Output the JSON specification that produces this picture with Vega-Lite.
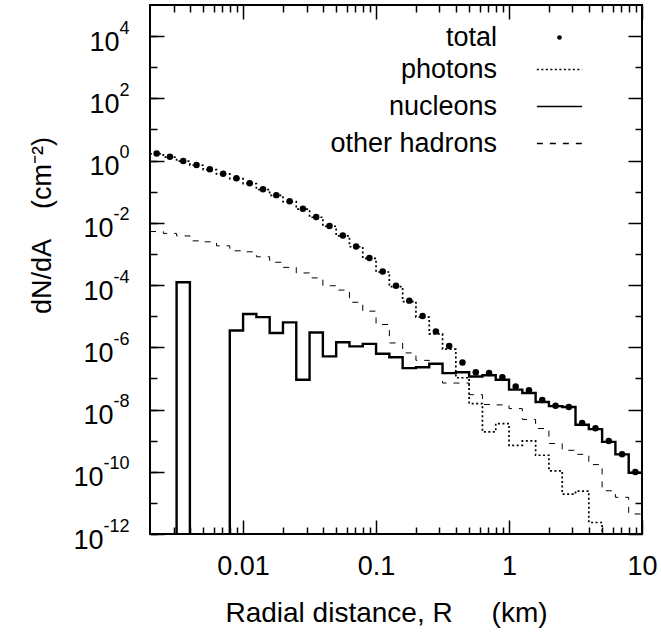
{
  "$schema": "https://vega.github.io/schema/vega-lite/v6.json",
  "width": 492,
  "height": 529,
  "autosize": {"type": "none"},
  "padding": {"left": 150, "top": 5, "right": 19, "bottom": 108},
  "background": "white",
  "config": {
    "view": {"stroke": "black", "strokeWidth": 2},
    "axis": {"domain": false, "grid": false, "ticks": true, "tickColor": "black", "tickWidth": 1.5, "tickOpacity": 1, "zindex": 1, "labelFont": "Liberation Sans", "labelColor": "black", "labelOverlap": false, "labelFlush": false, "labelBound": false, "titleFont": "Liberation Sans", "titleColor": "black", "titleFontWeight": "normal"},
    "legend": {"labelFont": "Liberation Sans", "labelColor": "black", "labelFontSize": 27, "padding": 0, "labelLimit": 300}
  },
  "data": {"values": [
    {"series":"photons","r":0.0019953,"v":1.66},{"series":"photons","r":0.0025119,"v":1.29},{"series":"photons","r":0.0031623,"v":0.955},{"series":"photons","r":0.0039811,"v":0.708},{"series":"photons","r":0.0050119,"v":0.513},{"series":"photons","r":0.0063096,"v":0.372},{"series":"photons","r":0.0079433,"v":0.263},{"series":"photons","r":0.01,"v":0.182},{"series":"photons","r":0.012589,"v":0.117},{"series":"photons","r":0.015849,"v":0.0759},{"series":"photons","r":0.019953,"v":0.0479},{"series":"photons","r":0.025119,"v":0.0275},{"series":"photons","r":0.031623,"v":0.0151},{"series":"photons","r":0.039811,"v":0.00776},{"series":"photons","r":0.050119,"v":0.0038},{"series":"photons","r":0.063096,"v":0.0017},{"series":"photons","r":0.079433,"v":7.24e-4},{"series":"photons","r":0.1,"v":2.63e-4},{"series":"photons","r":0.12589,"v":8.91e-5},{"series":"photons","r":0.15849,"v":2.95e-5},{"series":"photons","r":0.19953,"v":9.33e-6},{"series":"photons","r":0.25119,"v":2.69e-6},{"series":"photons","r":0.31623,"v":8.71e-7},{"series":"photons","r":0.39811,"v":1.05e-7},{"series":"photons","r":0.50119,"v":1.55e-8},{"series":"photons","r":0.63096,"v":1.91e-9},{"series":"photons","r":0.79433,"v":3.55e-9},{"series":"photons","r":1,"v":7.08e-10},{"series":"photons","r":1.2589,"v":9.77e-10},{"series":"photons","r":1.5849,"v":3.39e-10},{"series":"photons","r":1.9953,"v":1.07e-10},{"series":"photons","r":2.5119,"v":1.91e-11},{"series":"photons","r":3.1623,"v":2.4e-11},{"series":"photons","r":3.9811,"v":2.34e-12},{"series":"photons","r":5.0119,"v":1e-15},{"series":"photons","r":6.3096,"v":1e-15},{"series":"photons","r":7.9433,"v":1e-15},{"series":"photons","r":10,"v":1e-15},
    {"series":"nucleons","r":0.0019953,"v":1e-15},{"series":"nucleons","r":0.0025119,"v":1e-15},{"series":"nucleons","r":0.0031623,"v":1.23e-4},{"series":"nucleons","r":0.0039811,"v":1e-15},{"series":"nucleons","r":0.0050119,"v":1e-15},{"series":"nucleons","r":0.0063096,"v":1e-15},{"series":"nucleons","r":0.0079433,"v":3.47e-6},{"series":"nucleons","r":0.01,"v":1.17e-5},{"series":"nucleons","r":0.012589,"v":9.3e-6},{"series":"nucleons","r":0.015849,"v":2.88e-6},{"series":"nucleons","r":0.019953,"v":6.3e-6},{"series":"nucleons","r":0.025119,"v":9.1e-8},{"series":"nucleons","r":0.031623,"v":3.0e-6},{"series":"nucleons","r":0.039811,"v":5.1e-7},{"series":"nucleons","r":0.050119,"v":1.45e-6},{"series":"nucleons","r":0.063096,"v":1.07e-6},{"series":"nucleons","r":0.079433,"v":1.29e-6},{"series":"nucleons","r":0.1,"v":6.2e-7},{"series":"nucleons","r":0.12589,"v":4.8e-7},{"series":"nucleons","r":0.15849,"v":2.14e-7},{"series":"nucleons","r":0.19953,"v":2.29e-7},{"series":"nucleons","r":0.25119,"v":2.95e-7},{"series":"nucleons","r":0.31623,"v":1.48e-7},{"series":"nucleons","r":0.39811,"v":1.58e-7},{"series":"nucleons","r":0.50119,"v":1.15e-7},{"series":"nucleons","r":0.63096,"v":1.26e-7},{"series":"nucleons","r":0.79433,"v":9.1e-8},{"series":"nucleons","r":1,"v":4.37e-8},{"series":"nucleons","r":1.2589,"v":3.39e-8},{"series":"nucleons","r":1.5849,"v":1.74e-8},{"series":"nucleons","r":1.9953,"v":1.29e-8},{"series":"nucleons","r":2.5119,"v":1.2e-8},{"series":"nucleons","r":3.1623,"v":3.24e-9},{"series":"nucleons","r":3.9811,"v":2.34e-9},{"series":"nucleons","r":5.0119,"v":9.1e-10},{"series":"nucleons","r":6.3096,"v":3.63e-10},{"series":"nucleons","r":7.9433,"v":9.3e-11},{"series":"nucleons","r":10,"v":9.3e-11},
    {"series":"other hadrons","r":0.0019953,"v":5.25e-3},{"series":"other hadrons","r":0.0025119,"v":4.57e-3},{"series":"other hadrons","r":0.0031623,"v":3.8e-3},{"series":"other hadrons","r":0.0039811,"v":2.63e-3},{"series":"other hadrons","r":0.0050119,"v":2.45e-3},{"series":"other hadrons","r":0.0063096,"v":1.82e-3},{"series":"other hadrons","r":0.0079433,"v":1.26e-3},{"series":"other hadrons","r":0.01,"v":1.17e-3},{"series":"other hadrons","r":0.012589,"v":8.1e-4},{"series":"other hadrons","r":0.015849,"v":5.4e-4},{"series":"other hadrons","r":0.019953,"v":3.7e-4},{"series":"other hadrons","r":0.025119,"v":2.45e-4},{"series":"other hadrons","r":0.031623,"v":1.7e-4},{"series":"other hadrons","r":0.039811,"v":9.5e-5},{"series":"other hadrons","r":0.050119,"v":6.9e-5},{"series":"other hadrons","r":0.063096,"v":2.8e-5},{"series":"other hadrons","r":0.079433,"v":1.45e-5},{"series":"other hadrons","r":0.1,"v":5.4e-6},{"series":"other hadrons","r":0.12589,"v":1.38e-6},{"series":"other hadrons","r":0.15849,"v":6.6e-7},{"series":"other hadrons","r":0.19953,"v":3.8e-7},{"series":"other hadrons","r":0.25119,"v":2.8e-7},{"series":"other hadrons","r":0.31623,"v":7.1e-8},{"series":"other hadrons","r":0.39811,"v":7.1e-8},{"series":"other hadrons","r":0.50119,"v":3.0e-8},{"series":"other hadrons","r":0.63096,"v":1.45e-8},{"series":"other hadrons","r":0.79433,"v":1.41e-8},{"series":"other hadrons","r":1,"v":1.07e-8},{"series":"other hadrons","r":1.2589,"v":4.8e-9},{"series":"other hadrons","r":1.5849,"v":2.45e-9},{"series":"other hadrons","r":1.9953,"v":8.1e-10},{"series":"other hadrons","r":2.5119,"v":4.9e-10},{"series":"other hadrons","r":3.1623,"v":3.63e-10},{"series":"other hadrons","r":3.9811,"v":1.7e-10},{"series":"other hadrons","r":5.0119,"v":2.45e-11},{"series":"other hadrons","r":6.3096,"v":1.51e-11},{"series":"other hadrons","r":7.9433,"v":4.4e-12},{"series":"other hadrons","r":10,"v":4.4e-12},
    {"series":"total","r":0.0022387,"v":1.7},{"series":"total","r":0.0028184,"v":1.32},{"series":"total","r":0.0035481,"v":0.977},{"series":"total","r":0.0044668,"v":0.724},{"series":"total","r":0.0056234,"v":0.525},{"series":"total","r":0.0070795,"v":0.38},{"series":"total","r":0.0089125,"v":0.269},{"series":"total","r":0.01122,"v":0.186},{"series":"total","r":0.014125,"v":0.12},{"series":"total","r":0.017783,"v":0.0776},{"series":"total","r":0.022387,"v":0.049},{"series":"total","r":0.028184,"v":0.0282},{"series":"total","r":0.035481,"v":0.0155},{"series":"total","r":0.044668,"v":0.00794},{"series":"total","r":0.056234,"v":0.00389},{"series":"total","r":0.070795,"v":0.00174},{"series":"total","r":0.089125,"v":7.41e-4},{"series":"total","r":0.1122,"v":2.75e-4},{"series":"total","r":0.14125,"v":9.55e-5},{"series":"total","r":0.17783,"v":3.16e-5},{"series":"total","r":0.22387,"v":1.02e-5},{"series":"total","r":0.28184,"v":3.24e-6},{"series":"total","r":0.35481,"v":1.1e-6},{"series":"total","r":0.44668,"v":3.24e-7},{"series":"total","r":0.56234,"v":1.58e-7},{"series":"total","r":0.70795,"v":1.48e-7},{"series":"total","r":0.89125,"v":1.1e-7},{"series":"total","r":1.122,"v":5.5e-8},{"series":"total","r":1.4125,"v":4.17e-8},{"series":"total","r":1.7783,"v":2.04e-8},{"series":"total","r":2.2387,"v":1.32e-8},{"series":"total","r":2.8184,"v":1.2e-8},{"series":"total","r":3.5481,"v":3.72e-9},{"series":"total","r":4.4668,"v":2.51e-9},{"series":"total","r":5.6234,"v":9.8e-10},{"series":"total","r":7.0795,"v":3.63e-10},{"series":"total","r":8.9125,"v":9.8e-11}
  ]},
  "resolve": {"axis": {"x": "independent", "y": "independent"}},
  "layer": [
    {
      "transform": [{"filter": "datum.series === 'photons'"}],
      "mark": {"type": "line", "interpolate": "step-after", "color": "black", "strokeWidth": 1.7, "clip": true},
      "encoding": {
        "x": {"field": "r", "type": "quantitative", "scale": {"type": "log", "domain": [0.0019953, 10], "nice": false},
          "axis": {"orient": "bottom", "values": [0.01, 0.1, 1, 10], "offset": -14, "tickSize": 14, "tickColor": "black", "tickWidth": 1.5, "zindex": 1,
            "labelExpr": "datum.value == 0.01 ? '0.01' : datum.value == 0.1 ? '0.1' : datum.value == 1 ? '1' : '10'",
            "labelFontSize": 27, "labelPadding": 19,
            "title": "Radial distance, R\u00a0\u00a0\u00a0\u00a0\u00a0(km)", "titleFontSize": 28, "titlePadding": 20, "titleX": 236}},
        "y": {"field": "v", "type": "quantitative", "scale": {"type": "log", "domain": [1e-12, 100000], "nice": false},
          "axis": {"orient": "left", "values": [1e-12,1e-10,1e-8,1e-6,1e-4,0.01,1,100,10000], "offset": -14, "tickSize": 14, "tickColor": "black", "tickWidth": 1.5, "zindex": 1,
            "labelExpr": "'10'",
            "labelFontSize": 27, "labelOffset": 6,
            "labelPadding": {"condition": [{"test": "round(log(datum.value)/LN10) <= -10", "value": 47}, {"test": "round(log(datum.value)/LN10) < 0", "value": 37}], "value": 31},
            "title": "dN/dA\u00a0\u00a0\u00a0\u00a0(cm⁻²)", "titleFontSize": 27, "titleX": -122, "titleY": 220, "titleAngle": 270, "titleBaseline": "middle", "titleAlign": "center"}},
        "strokeDash": {"field": "series", "type": "nominal", "scale": {"domain": ["photons", "nucleons", "other hadrons"], "range": [[2, 2.5], [1, 0], [6, 7]]},
          "legend": {"orient": "none", "legendX": 386, "legendY": 41, "title": null, "symbolType": "stroke", "symbolSize": 2052, "symbolStrokeColor": "black", "symbolStrokeWidth": 1.7, "symbolOpacity": 1, "symbolOffset": 0, "labelAlign": "right", "labelOffset": -86, "rowPadding": 0}}
      }
    },
    {
      "transform": [{"filter": "datum.series === 'nucleons'"}],
      "mark": {"type": "line", "interpolate": "step-after", "color": "black", "strokeWidth": 2.4, "clip": true},
      "encoding": {
        "x": {"field": "r", "type": "quantitative", "scale": {"type": "log", "domain": [0.0019953, 10], "nice": false},
          "axis": {"orient": "bottom", "values": [0.003,0.004,0.005,0.006,0.007,0.008,0.009,0.02,0.03,0.04,0.05,0.06,0.07,0.08,0.09,0.2,0.3,0.4,0.5,0.6,0.7,0.8,0.9,2,3,4,5,6,7,8,9],
            "offset": -7, "tickSize": 7, "tickColor": "black", "tickWidth": 1.5, "zindex": 1, "labels": false, "title": null}},
        "y": {"field": "v", "type": "quantitative", "scale": {"type": "log", "domain": [1e-12, 100000], "nice": false},
          "axis": {"orient": "left", "values": [1e-12,1e-11,1e-10,1e-9,1e-8,1e-7,1e-6,1e-5,1e-4,1e-3,0.01,0.1,1,10,100,1000,10000], "offset": -7, "tickSize": 7, "tickColor": "black", "tickWidth": 1.5, "zindex": 1,
            "labelExpr": "round(log(datum.value)/LN10) % 2 == 0 ? '' + round(log(datum.value)/LN10) : ''", "labelFontSize": 18, "labelPadding": 21, "labelOffset": -8, "title": null}},
        "strokeDash": {"field": "series", "type": "nominal", "scale": {"domain": ["photons", "nucleons", "other hadrons"], "range": [[2, 2.5], [1, 0], [6, 7]]}}
      }
    },
    {
      "transform": [{"filter": "datum.series === 'other hadrons'"}],
      "mark": {"type": "line", "interpolate": "step-after", "color": "black", "strokeWidth": 1, "clip": true},
      "encoding": {
        "x": {"field": "r", "type": "quantitative", "scale": {"type": "log", "domain": [0.0019953, 10], "nice": false},
          "axis": {"orient": "top", "values": [0.01, 0.1, 1, 10], "offset": -14, "tickSize": 14, "tickColor": "black", "tickWidth": 1.5, "zindex": 1, "labels": false, "title": null}},
        "y": {"field": "v", "type": "quantitative", "scale": {"type": "log", "domain": [1e-12, 100000], "nice": false},
          "axis": {"orient": "right", "values": [1e-12,1e-10,1e-8,1e-6,1e-4,0.01,1,100,10000], "offset": -14, "tickSize": 14, "tickColor": "black", "tickWidth": 1.5, "zindex": 1, "labels": false, "title": null}},
        "strokeDash": {"field": "series", "type": "nominal", "scale": {"domain": ["photons", "nucleons", "other hadrons"], "range": [[2, 2.5], [1, 0], [6, 7]]}}
      }
    },
    {
      "transform": [{"filter": "datum.series === 'total'"}],
      "mark": {"type": "point", "filled": true, "color": "black", "size": 42, "opacity": 1, "strokeWidth": 0},
      "encoding": {
        "x": {"field": "r", "type": "quantitative", "scale": {"type": "log", "domain": [0.0019953, 10], "nice": false},
          "axis": {"orient": "top", "values": [0.003,0.004,0.005,0.006,0.007,0.008,0.009,0.02,0.03,0.04,0.05,0.06,0.07,0.08,0.09,0.2,0.3,0.4,0.5,0.6,0.7,0.8,0.9,2,3,4,5,6,7,8,9],
            "offset": -7, "tickSize": 7, "tickColor": "black", "tickWidth": 1.5, "zindex": 1, "labels": false, "title": null}},
        "y": {"field": "v", "type": "quantitative", "scale": {"type": "log", "domain": [1e-12, 100000], "nice": false},
          "axis": {"orient": "right", "values": [1e-11,1e-9,1e-7,1e-5,1e-3,0.1,10,1000], "offset": -7, "tickSize": 7, "tickColor": "black", "tickWidth": 1.5, "zindex": 1, "labels": false, "title": null}},
        "shape": {"field": "series", "type": "nominal", "scale": {"domain": ["total"], "range": ["circle"]},
          "legend": {"orient": "none", "legendX": 368, "legendY": 19, "title": null, "symbolType": "circle", "symbolSize": 22, "symbolFillColor": "black", "symbolStrokeColor": "black", "symbolStrokeWidth": 0, "symbolOpacity": 1, "symbolOffset": 28, "labelAlign": "right", "labelOffset": -76}}
      }
    }
  ]
}
